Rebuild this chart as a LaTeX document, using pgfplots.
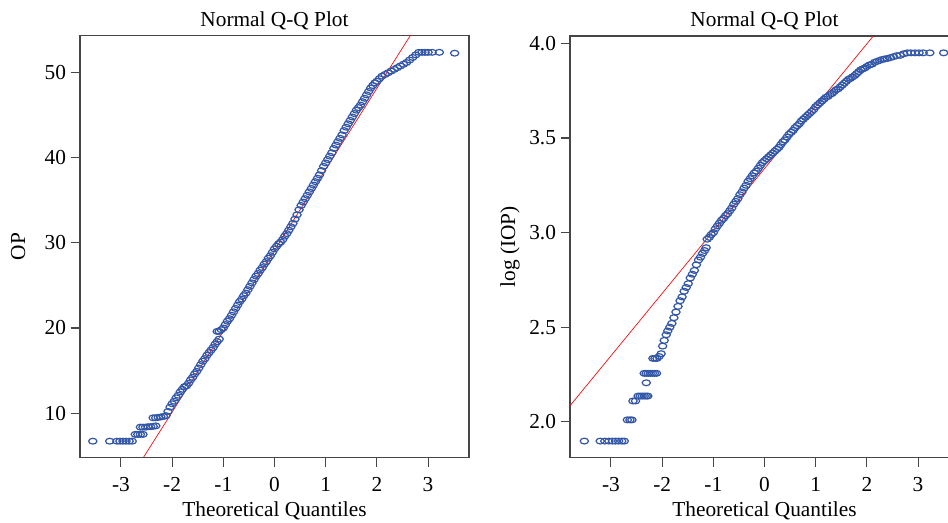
\documentclass[border=0pt]{standalone}
\usepackage{pgfplots}
\pgfplotsset{compat=1.18}
\usepackage{fontspec}
\setmainfont{Liberation Serif}
\definecolor{qqblue}{RGB}{51,87,168}
\definecolor{axgray}{RGB}{70,70,70}
\pgfplotsset{
  qqaxis/.style={
    scale only axis,
    width=291.75pt,
    height=316.2pt,
    xmin=-3.8, xmax=3.8,
    xtick={-3,-2,-1,0,1,2,3},
    tick align=outside,
    xtick pos=lower, ytick pos=left,
    major tick length=7pt,
    tick style={axgray, line width=0.8pt},
    axis line style={axgray, line width=0.8pt},
    /pgf/number format/assume math mode=true,
    xticklabel style={yshift=-4.5pt},
    title={Normal Q-Q Plot},
    every axis title shift=0pt,
    title style={at={(axis description cs:0.5,1)}, anchor=base, yshift=6.8pt},
    xlabel={Theoretical Quantiles},
    xlabel style={at={(axis description cs:0.5,-0.14)}, anchor=base},
    clip=true,
  },
  qqmarks/.style={only marks, mark=o, draw=qqblue, mark size=3.1pt,
    mark options={line width=0.9pt, yscale=0.7}},
}
\begin{document}
\begin{tikzpicture}[font=\fontsize{16}{19}\selectfont]
\begin{axis}[qqaxis,
  at={(60pt,-26.8pt)}, anchor=north west,
  ymin=4.8, ymax=54.35,
  ytick={10,20,30,40,50},
  ylabel={OP},
  every axis y label/.style={at={(axis description cs:-0.159,0.5)}, anchor=center, rotate=90},
]
\addplot[qqmarks] coordinates {
(-3.55,6.7) (-3.22,6.7) (-3.08,6.7) (-3.02,6.7) (-2.96,6.7) (-2.90,6.7) (-2.84,6.7) (-2.78,6.7)
(-2.72,7.5) (-2.67,7.5) (-2.62,7.5) (-2.57,7.5)
(-2.62,8.35) (-2.57,8.35) (-2.52,8.35) (-2.47,8.4) (-2.42,8.4) (-2.37,8.45) (-2.32,8.5)
(-2.37,9.45) (-2.32,9.45) (-2.27,9.5) (-2.22,9.55) (-2.17,9.6) (-2.12,9.7)
(-2.08,10.2) (-2.04,10.7) (-2.00,11.1) (-1.96,11.4) (-1.92,11.8) (-1.88,12.1) (-1.84,12.5) (-1.80,12.8) (-1.76,13.1) (-1.72,13.2) (-1.68,13.5) (-1.64,13.9) (-1.60,14.2) (-1.56,14.6) (-1.52,14.9) (-1.48,15.3) (-1.44,15.7) (-1.40,16.1) (-1.36,16.4) (-1.32,16.8) (-1.28,17.1) (-1.24,17.4) (-1.20,17.7) (-1.16,18.1) (-1.12,18.4) (-1.08,18.7)
(-1.12,19.6) (-1.08,19.6) (-1.04,19.8) (-1.00,20.0) (-0.96,20.4) (-0.92,20.8) (-0.88,21.1) (-0.84,21.5) (-0.80,21.9) (-0.76,22.3) (-0.72,22.7) (-0.68,23.1) (-0.64,23.4) (-0.60,23.8) (-0.56,24.1) (-0.52,24.5) (-0.48,24.9) (-0.44,25.3) (-0.40,25.7) (-0.36,26.1) (-0.32,26.4) (-0.28,26.8) (-0.24,27.1) (-0.20,27.5) (-0.16,27.8) (-0.12,28.2) (-0.08,28.5) (-0.04,28.9) (0.00,29.3) (0.04,29.6) (0.08,29.9) (0.12,30.1) (0.16,30.4) (0.20,30.8) (0.24,31.1) (0.28,31.5) (0.32,31.9) (0.36,32.3) (0.40,32.8) (0.44,33.3) (0.48,33.9) (0.52,34.4) (0.56,34.8) (0.60,35.2) (0.64,35.6) (0.68,36.0) (0.72,36.4) (0.76,36.8) (0.80,37.2) (0.84,37.6) (0.88,38.0) (0.92,38.5) (0.96,39.0) (1.00,39.4) (1.04,39.8) (1.08,40.2) (1.12,40.6) (1.16,41.1) (1.20,41.5) (1.24,41.9) (1.28,42.3) (1.32,42.7) (1.36,43.2) (1.40,43.6) (1.44,44.0) (1.48,44.4) (1.52,44.8) (1.56,45.2) (1.60,45.6) (1.64,45.9) (1.68,46.2) (1.72,46.6) (1.76,47.0) (1.80,47.4) (1.84,47.8) (1.88,48.2) (1.92,48.5) (1.96,48.8) (2.00,49.0) (2.05,49.3) (2.10,49.6) (2.16,49.8) (2.22,50.0) (2.28,50.2) (2.34,50.4) (2.40,50.6) (2.46,50.8) (2.52,51.0) (2.58,51.2) (2.64,51.5) (2.70,51.8) (2.76,52.1) (2.82,52.4) (2.88,52.4) (2.94,52.4) (3.00,52.4) (3.08,52.4) (3.22,52.4) (3.52,52.3)
};
\addplot[red, line width=0.5pt] coordinates {(-4,-8.9) (4,67.18)};
\end{axis}
\begin{axis}[qqaxis,
  at={(427.5pt,-27pt)}, anchor=north west,
  height=316pt,
  ymin=1.812, ymax=4.039,
  ytick={2.0,2.5,3.0,3.5,4.0},
  yticklabel style={/pgf/number format/.cd, fixed, fixed zerofill, precision=1},
  ylabel={log (IOP)},
  every axis y label/.style={at={(axis description cs:-0.154,0.5)}, anchor=center, rotate=90},
]
\addplot[qqmarks] coordinates {
(-3.52,1.898) (-3.21,1.898) (-3.12,1.898) (-3.04,1.898) (-2.97,1.898) (-2.91,1.898) (-2.85,1.898) (-2.79,1.898) (-2.74,1.898)
(-2.68,2.01) (-2.63,2.01) (-2.59,2.01)
(-2.57,2.11) (-2.52,2.11) (-2.47,2.136) (-2.43,2.136) (-2.39,2.136) (-2.35,2.136) (-2.31,2.136) (-2.28,2.136)
(-2.31,2.206)
(-2.35,2.256) (-2.31,2.256) (-2.27,2.256) (-2.23,2.256) (-2.19,2.256) (-2.15,2.256) (-2.11,2.256)
(-2.18,2.335) (-2.14,2.335) (-2.10,2.335) (-2.06,2.345) (-2.02,2.36) (-1.99,2.40) (-1.96,2.43) (-1.92,2.46) (-1.89,2.48) (-1.85,2.50) (-1.81,2.52) (-1.77,2.55) (-1.73,2.58) (-1.69,2.61) (-1.65,2.64) (-1.61,2.66) (-1.57,2.69) (-1.53,2.71) (-1.49,2.73) (-1.45,2.76) (-1.41,2.78) (-1.37,2.80) (-1.33,2.83) (-1.29,2.855) (-1.25,2.87) (-1.21,2.89) (-1.17,2.905) (-1.14,2.92)
(-1.12,2.965) (-1.08,2.975) (-1.04,2.99) (-1.00,3.00) (-0.96,3.02) (-0.92,3.035) (-0.88,3.05) (-0.84,3.065) (-0.80,3.075) (-0.76,3.09) (-0.72,3.10) (-0.68,3.115) (-0.64,3.13) (-0.60,3.15) (-0.56,3.165) (-0.52,3.18) (-0.48,3.20) (-0.44,3.215) (-0.40,3.235) (-0.36,3.25) (-0.32,3.27) (-0.28,3.285) (-0.24,3.30) (-0.20,3.315) (-0.16,3.325) (-0.12,3.34) (-0.08,3.355) (-0.04,3.37) (0.00,3.38) (0.04,3.39) (0.08,3.40) (0.12,3.41) (0.16,3.42) (0.20,3.43) (0.24,3.44) (0.28,3.45) (0.32,3.465) (0.36,3.48) (0.40,3.49) (0.44,3.505) (0.48,3.52) (0.52,3.53) (0.56,3.54) (0.60,3.555) (0.64,3.565) (0.68,3.575) (0.72,3.59) (0.76,3.60) (0.80,3.61) (0.84,3.62) (0.88,3.63) (0.92,3.64) (0.96,3.65) (1.00,3.665) (1.04,3.675) (1.08,3.685) (1.12,3.695) (1.16,3.705) (1.20,3.715) (1.24,3.72) (1.28,3.73) (1.32,3.735) (1.36,3.745) (1.40,3.755) (1.44,3.76) (1.48,3.77) (1.52,3.78) (1.56,3.79) (1.60,3.80) (1.64,3.81) (1.68,3.815) (1.72,3.823) (1.76,3.83) (1.80,3.84) (1.84,3.85) (1.88,3.86) (1.92,3.865) (1.96,3.87) (2.00,3.878) (2.05,3.886) (2.10,3.89) (2.15,3.90) (2.20,3.905) (2.25,3.91) (2.30,3.915) (2.35,3.918) (2.40,3.92) (2.46,3.925) (2.52,3.93) (2.58,3.935) (2.65,3.937) (2.72,3.945) (2.79,3.95) (2.86,3.95) (2.94,3.95) (3.02,3.95) (3.10,3.95) (3.23,3.95) (3.50,3.95)
};
\addplot[red, line width=0.5pt] coordinates {(-4,2.0188) (4,4.6572)};
\end{axis}
\pgfresetboundingbox
\path[use as bounding box] (0,0) rectangle (711pt,-391.5pt);
\end{tikzpicture}
\end{document}
